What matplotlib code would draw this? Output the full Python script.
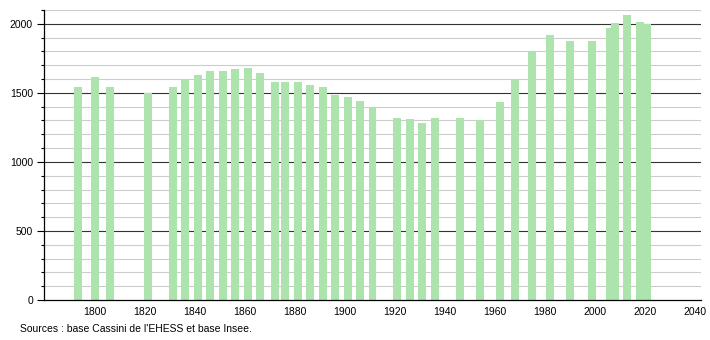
import numpy as np
import matplotlib
matplotlib.use('Agg')
import matplotlib.pyplot as plt

plt.rcParams['font.family'] = ['Liberation Sans', 'DejaVu Sans']

# census years and population
years = [1793, 1800, 1806, 1821, 1831, 1836, 1841, 1846, 1851, 1856,
         1861, 1866, 1872, 1876, 1881, 1886, 1891, 1896, 1901, 1906,
         1911, 1921, 1926, 1931, 1936, 1946, 1954, 1962, 1968, 1975,
         1982, 1990, 1999, 2006, 2008, 2013, 2018, 2021]
population = [1541, 1616, 1543, 1498, 1541, 1601, 1628, 1657, 1659, 1674,
              1679, 1647, 1582, 1582, 1582, 1558, 1543, 1486, 1471, 1444,
              1396, 1319, 1312, 1283, 1319, 1319, 1307, 1435, 1594, 1795,
              1920, 1877, 1877, 1971, 2005, 2065, 2012, 2000]

x_ticks = [1800, 1820, 1840, 1860, 1880, 1900, 1920, 1940, 1960, 1980, 2000, 2020, 2040]
y_ticks = [0, 500, 1000, 1500, 2000]

fig = plt.figure(figsize=(7.1, 3.4), dpi=100)
ax = fig.add_axes([44/710, 40/340, 657/710, 290/340])

# grid: light every 100, dark every 500
for v in range(100, 2101, 100):
    if v % 500 == 0:
        ax.axhline(v, color='#333333', lw=0.8, zorder=1)
    else:
        ax.axhline(v, color='#cccccc', lw=0.8, zorder=1)

ax.bar(years, population, width=3.2, color='#ade3ad', zorder=2)

ax.set_xlim(1779.5, 2042.5)
ax.set_ylim(0, 2100)
ax.set_xticks(x_ticks)
ax.set_yticks(y_ticks)
ax.set_yticks(range(0, 2101, 100), minor=True)
ax.tick_params(axis='x', length=0, labelsize=7.5, pad=5)
ax.tick_params(axis='y', which='major', length=5, width=0.8, labelsize=7.5, pad=3)
ax.tick_params(axis='y', which='minor', length=2.5, width=0.8)

for s in ['top', 'right']:
    ax.spines[s].set_visible(False)
ax.spines['left'].set_linewidth(0.9)
ax.spines['bottom'].set_linewidth(0.9)

fig.text(20/710, 1 - 329/340, "Sources : base Cassini de l'EHESS et base Insee.",
         fontsize=7.5, va='center', ha='left')

fig.savefig('out.png', dpi=100)
